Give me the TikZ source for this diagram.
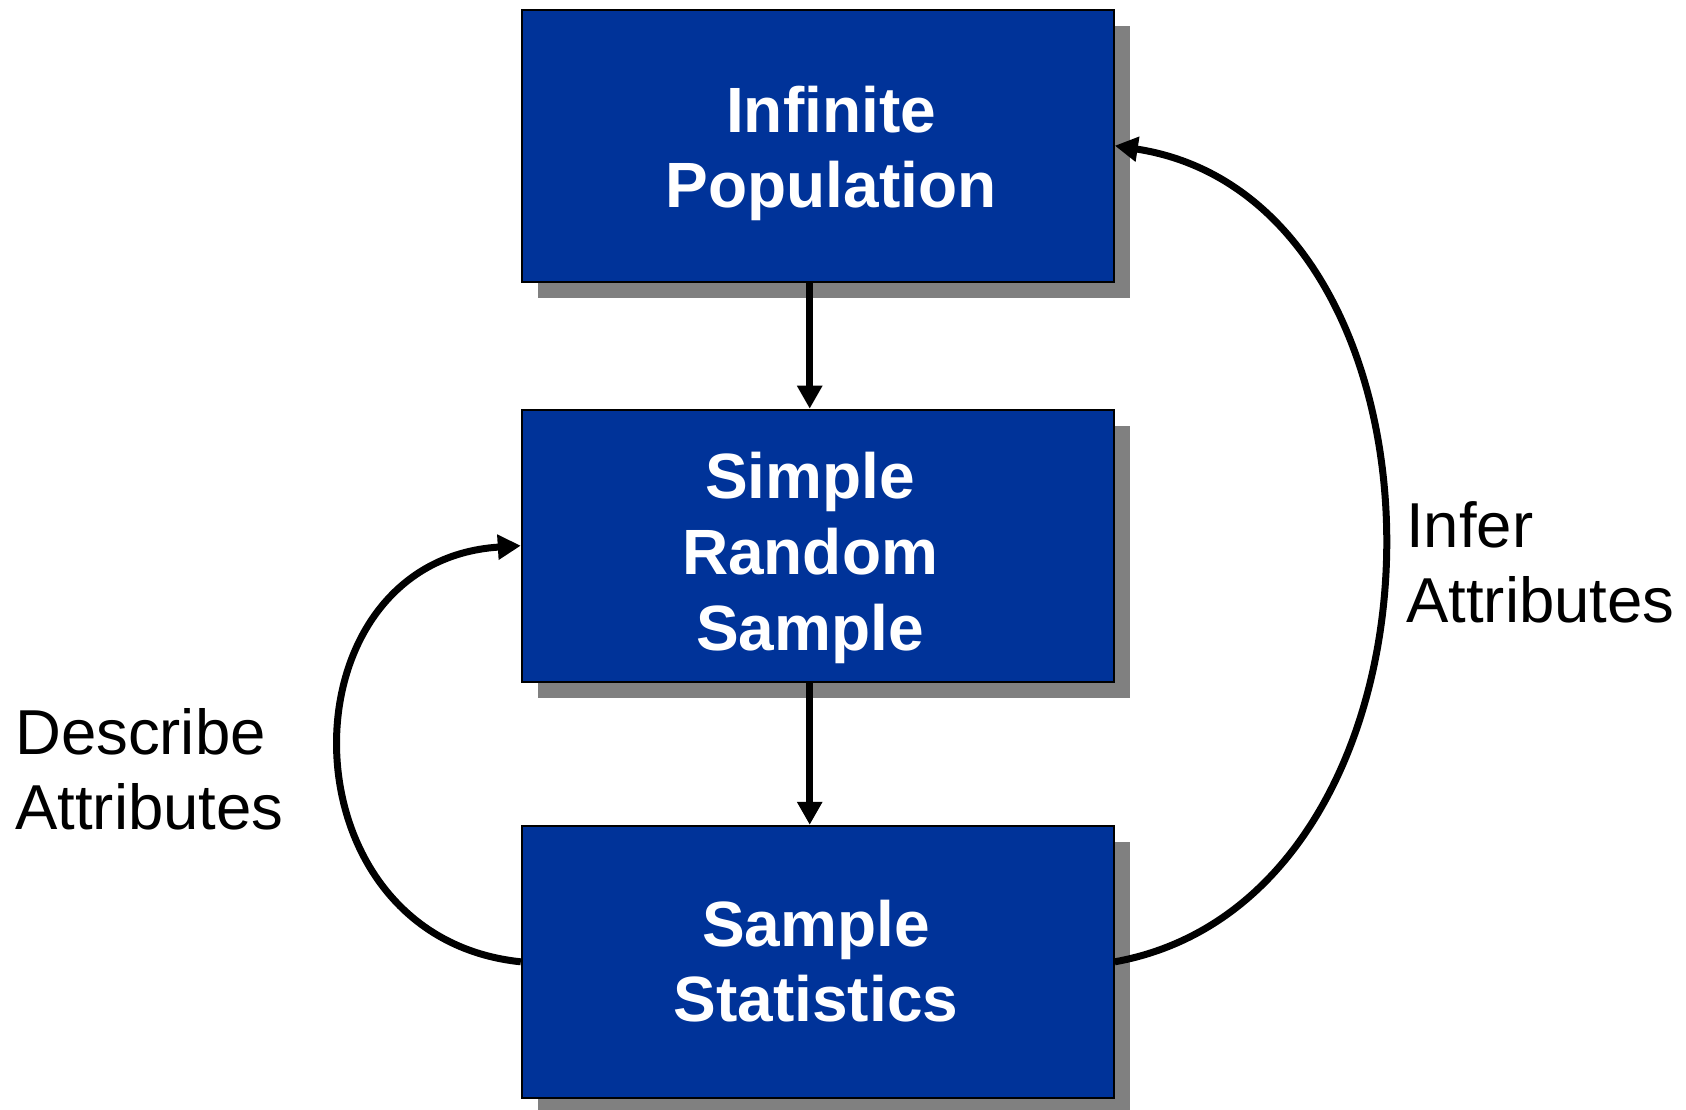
\documentclass[tikz,border=0pt]{standalone}
\usepackage{fontspec}
\setmainfont{Liberation Sans}
\usetikzlibrary{arrows.meta,calc}
\definecolor{boxblue}{RGB}{0,51,153}
\definecolor{shadowgray}{RGB}{128,128,128}
\begin{document}
\begin{tikzpicture}[x=1pt,y=-1pt,
  boxnode/.style={draw=black,line width=2pt,fill=boxblue,inner sep=0pt,minimum width=592pt,minimum height=272pt},
  shadownode/.style={fill=shadowgray,inner sep=0pt,minimum width=592pt,minimum height=272pt},
  boxtext/.style={text=white,font=\bfseries\fontsize{64}{75}\selectfont,inner sep=0pt,anchor=base},
  labeltext/.style={text=black,font=\fontsize{63.5}{75}\selectfont,inner sep=0pt,anchor=base west},
  conn/.style={line width=7pt,-{Triangle[length=23pt,width=24pt]}}]
\useasboundingbox (0,0) rectangle (1686,1109);
% shadows
\node[shadownode] (popsh) at (833.8,161.7) {};
\node[shadownode] (srssh) at (833.8,561.7) {};
\node[shadownode] (statsh) at (833.8,977.8) {};
% boxes
\node[boxnode] (pop) at (817.8,145.7) {};
\node[boxnode] (srs) at (817.8,545.7) {};
\node[boxnode] (stat) at (817.8,961.8) {};
% box texts
\node[boxtext] (t1) at (831,132) {Infinite};
\node[boxtext] (t2) at (831,207.5) {Population};
\node[boxtext] (t3) at (810,498) {Simple};
\node[boxtext] (t4) at (810,574) {Random};
\node[boxtext] (t5) at (810,650) {Sample};
\node[boxtext] (t6) at (816,946) {Sample};
\node[boxtext] (t7) at (816,1021.5) {Statistics};
% labels
\node[labeltext] (l1) at (15,754) {Describe};
\node[labeltext] (l2) at (15,829) {Attributes};
\node[labeltext] (l3) at (1406,547) {Infer};
\node[labeltext] (l4) at (1406,622) {Attributes};
% connectors
\coordinate (ax) at (809.7,0);
\draw[conn] (pop.south -| ax) -- (srs.north -| ax);
\draw[conn] (srs.south -| ax) -- (stat.north -| ax);
\draw[conn] (stat.west) .. controls +(-242,-25) and +(-242,15) .. (srs.west);
\draw[conn] (stat.east) .. controls +(359,-65) and +(359,55) .. (pop.east);
\end{tikzpicture}
\end{document}
